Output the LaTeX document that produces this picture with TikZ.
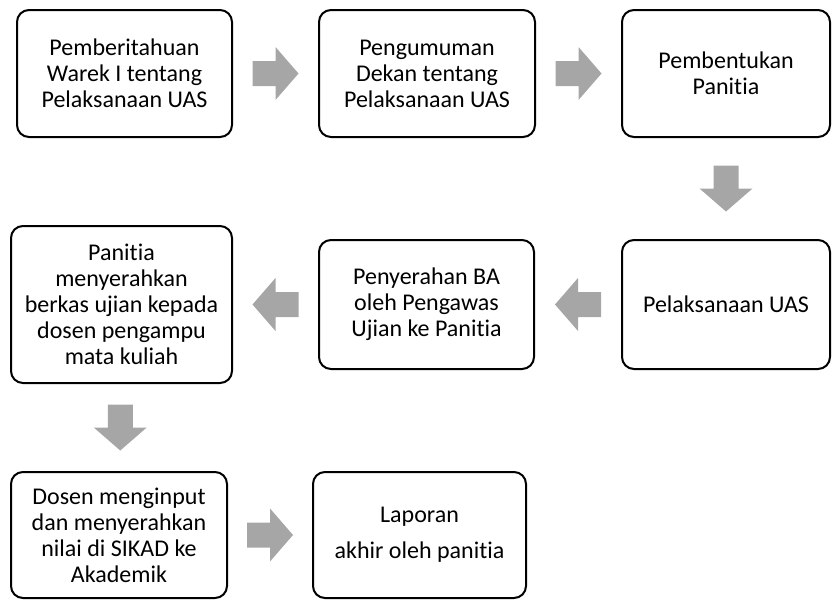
\documentclass[tikz,border=0pt]{standalone}
\usepackage{fontspec}
\setmainfont{Carlito}[Ligatures=NoCommon]
\usetikzlibrary{calc}
\definecolor{arrowgray}{HTML}{A6A6A6}
\tikzset{
    stepbox/.style={draw=black, line width=2pt, rounded corners=12pt,
        align=center, inner sep=0pt, font=\fontsize{24}{26}\selectfont},
    blockarrow/.pic={
        \fill[arrowgray] (-23,-12.5) -- (0,-12.5) -- (0,-26.5) -- (23,0)
            -- (0,26.5) -- (0,12.5) -- (-23,12.5) -- cycle;
    }
}
\begin{document}
\begin{tikzpicture}[x=1pt, y=-1pt]
    \useasboundingbox (0,0) rectangle (832,600);
    % first row
    \node[stepbox, minimum width=215pt, minimum height=127pt] (b1)
        at (124.5,73.5) {Pemberitahuan\\Warek I tentang\\Pelaksanaan UAS};
    \node[stepbox, minimum width=216pt, minimum height=127pt] (b2)
        at (427,73.5) {Pengumuman\\Dekan tentang\\Pelaksanaan UAS};
    \node[stepbox, minimum width=208pt, minimum height=127pt] (b3)
        at (726,73.5) {Pembentukan\\Panitia};
    % second row
    \node[stepbox, minimum width=208pt, minimum height=129pt] (b6)
        at (726,304.5) {Pelaksanaan UAS};
    \node[stepbox, minimum width=215pt, minimum height=129pt] (b5)
        at (426.5,304.5) {Penyerahan BA\\oleh Pengawas\\Ujian ke Panitia};
    \node[stepbox, minimum width=221pt, minimum height=157pt] (b4)
        at (121.5,304.5) {Panitia\\menyerahkan\\berkas ujian kepada\\dosen pengampu\\mata kuliah};
    % third row
    \node[stepbox, minimum width=216pt, minimum height=126pt] (b7)
        at (119,535) {Dosen menginput\\dan menyerahkan\\nilai di SIKAD ke\\Akademik};
    \node[stepbox, minimum width=213pt, minimum height=126pt] (b8)
        at (419.5,535) {Laporan\\[10pt]akhir oleh panitia};
    % arrows
    \pic at ($(b1.east)!.5!(b2.west)$) {blockarrow};
    \pic at ($(b2.east)!.5!(b3.west)$) {blockarrow};
    \pic[rotate=-90] at ($(b3.south)!.5!(b6.north)$) {blockarrow};
    \pic[rotate=180] at ($(b6.west)!.5!(b5.east)$) {blockarrow};
    \pic[rotate=180] at ($(b5.west)!.5!(b4.east)$) {blockarrow};
    \pic[rotate=-90] at ($(b4.south)!.5!(b7.north)$) {blockarrow};
    \pic at ($(b7.east)!.5!(b8.west)$) {blockarrow};
\end{tikzpicture}
\end{document}
